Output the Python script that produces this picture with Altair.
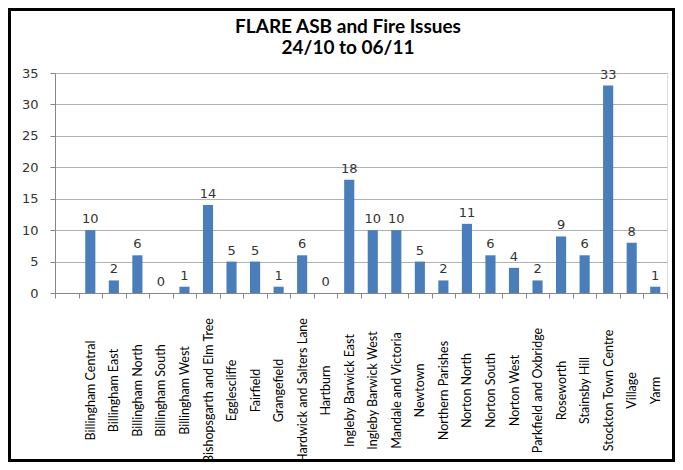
import altair as alt
import pandas as pd

categories = [
    "Billingham Central", "Billingham East", "Billingham North", "Billingham South",
    "Billingham West", "Bishopsgarth and Elm Tree", "Egglescliffe", "Fairfield",
    "Grangefield", "Hardwick and Salters Lane", "Hartburn", "Ingleby Barwick East",
    "Ingleby Barwick West", "Mandale and Victoria", "Newtown", "Northern Parishes",
    "Norton North", "Norton South", "Norton West", "Parkfield and Oxbridge",
    "Roseworth", "Stainsby Hill", "Stockton Town Centre", "Village", "Yarm",
]
values = [10, 2, 6, 0, 1, 14, 5, 5, 1, 6, 0, 18, 10, 10, 5, 2, 11, 6, 4, 2, 9, 6, 33, 8, 1]
y_ticks = [0, 5, 10, 15, 20, 25, 30, 35]
title_lines = ["FLARE ASB and Fire Issues", "24/10 to 06/11"]

df = pd.DataFrame({"ward": categories, "count": values})
domain = [""] + categories  # leading empty category slot, as in the original

x_enc = alt.X(
    "ward:N",
    sort=None,
    scale=alt.Scale(domain=domain, paddingInner=0, paddingOuter=0),
    axis=alt.Axis(
        title=None,
        labelAngle=-90,
        labelAlign="center",
        labelBaseline="middle",
        labelPadding=92,
        labelFont="Lato",
        labelFontSize=12.5,
        labelColor="#000000",
        tickBand="extent",
        tickSize=5,
        tickColor="#868686",
        domainColor="#868686",
        grid=False,
        labelOverlap=False,
    ),
)
y_enc = alt.Y(
    "count:Q",
    scale=alt.Scale(domain=[0, 35], nice=False),
    axis=alt.Axis(
        title=None,
        values=y_ticks,
        tickCount=8,
        labelFont="DejaVu Sans",
        labelFontSize=13,
        labelColor="#333333",
        labelPadding=12,
        labelOverlap=False,
        tickSize=5,
        tickColor="#868686",
        domainColor="#868686",
        gridColor="#b0b0b0",
    ),
)

base = alt.Chart(df).encode(x=x_enc, y=y_enc)

bars = base.mark_bar(color="#4a7ebb", width=alt.RelativeBandSize(0.43))

labels = base.mark_text(
    font="DejaVu Sans", fontSize=13, color="#333333", baseline="alphabetic", dy=-7
).encode(text="count:Q")

title1 = alt.Chart(pd.DataFrame({"t": [title_lines[0]]})).mark_text(
    font="Lato", fontSize=19, fontWeight="bold", color="#000000", baseline="middle"
).encode(text="t:N", x=alt.value(293), y=alt.value(-46))

title2 = alt.Chart(pd.DataFrame({"t": [title_lines[1]]})).mark_text(
    font="Lato", fontSize=19, fontWeight="bold", color="#000000", baseline="middle"
).encode(text="t:N", x=alt.value(293), y=alt.value(-25))

frame = alt.Chart(pd.DataFrame({"a": [0]})).mark_rect(
    fill=None, fillOpacity=0, stroke="#000000", strokeWidth=3
).encode(
    x=alt.value(-45.5), x2=alt.value(618.5),
    y=alt.value(-63.5), y2=alt.value(387.5),
)

chart = alt.layer(bars, labels, title1, title2, frame).properties(
    width=612,
    height=220,
    autosize=alt.AutoSizeParams(type="none"),
    padding={"left": 47, "top": 65, "right": 8, "bottom": 169},
).configure_view(stroke=None).configure(background="white")

chart.save("out.html", embed_options={"renderer": "svg", "actions": False})
